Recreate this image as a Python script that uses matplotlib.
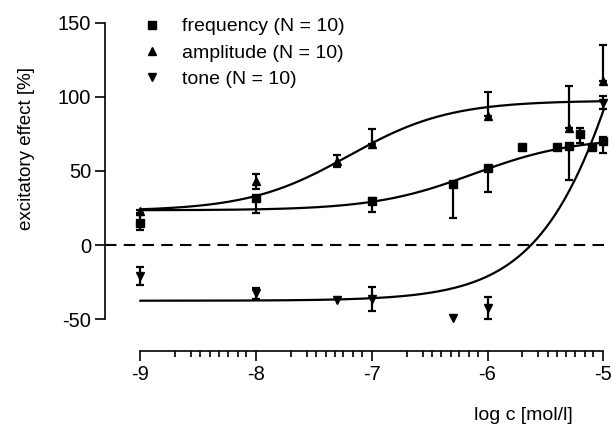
import matplotlib
matplotlib.use("Agg")
import matplotlib.pyplot as plt
from matplotlib.lines import Line2D
import numpy as np

plt.rcParams['font.family'] = ['Liberation Sans', 'DejaVu Sans']

# measured points (log c, effect %), with lower / upper error
freq_x = [-9, -8, -7, -6.3, -6, -5.7, -5.4, -5.3, -5.2, -5.1, -5]
freq_y = [15, 32, 30, 41, 52, 66, 66, 67, 75, 66, 70]
freq_lo = [5, 10, 7.5, 23, 16, 0, 0, 23, 6, 0, 8]
freq_hi = [5, 0, 2, 0, 0, 0, 0, 0, 4, 0, 3]

amp_x = [-9, -8, -7.3, -7, -6, -5.3, -5]
amp_y = [23, 43, 57, 68, 87, 79, 111]
amp_lo = [1, 5, 4, 0, 0, 0, 0]
amp_hi = [1, 5, 4, 10, 16, 28, 24]

tone_x = [-9, -8, -7.3, -7, -6.3, -6, -5]
tone_y = [-21, -32.5, -37, -36.5, -49, -42.5, 96]
tone_lo = [6, 3.5, 0, 8, 0, 7.5, 4.5]
tone_hi = [6, 3.5, 0, 8, 0, 7.5, 4.5]

# sigmoid fit parameters: bottom, top, logEC50, hill
freq_fit = (23.5, 72.6, -6.12, 1.0)
amp_fit = (23.0, 97.5, -7.2, 1.0)
tone_fit = (-37.5, 477.5, -4.52, 1.0)

labels = ['frequency (N = 10)', 'amplitude (N = 10)', 'tone (N = 10)']

# minor tick offsets inside each decade, as drawn in the original
minor_offsets = [0.30, 0.44, 0.52, 0.60, 0.68, 0.755, 0.84, 0.915]


def sigmoid(x, p):
    bottom, top, ec50, hill = p
    return bottom + (top - bottom) / (1 + 10 ** ((ec50 - x) * hill))


fig = plt.figure(figsize=(6.13, 4.26), dpi=100)
ax = fig.add_axes([105 / 613, 75.3 / 426, 506.4 / 613, 328 / 426])

xs = np.linspace(-9, -5, 300)
ax.axhline(0, color='k', lw=1.5, ls=(0, (5.5, 3.5)), zorder=1)

series = [
    (freq_x, freq_y, freq_lo, freq_hi, freq_fit, 's', 5.2),
    (amp_x, amp_y, amp_lo, amp_hi, amp_fit, '^', 5.5),
    (tone_x, tone_y, tone_lo, tone_hi, tone_fit, 'v', 5.5),
]
handles = []
for (x, y, lo, hi, fit, mk, ms), lab in zip(series, labels):
    ax.plot(xs, sigmoid(xs, fit), color='k', lw=1.6, zorder=2)
    x = np.array(x); y = np.array(y); lo = np.array(lo); hi = np.array(hi)
    sel = (lo > 0) | (hi > 0)
    ax.errorbar(x[sel], y[sel], yerr=[lo[sel], hi[sel]], fmt='none', ecolor='k',
                elinewidth=1.6, capsize=3, capthick=1.6, zorder=3)
    ax.plot(x, y, ls='none', marker=mk, ms=ms, color='k', zorder=4)
    handles.append(Line2D([], [], ls='none', marker=mk, ms=ms, color='k', label=lab))

ax.set_xlim(-9.305, -4.93)
ax.set_ylim(-71.2, 150)

for s in ['top', 'right']:
    ax.spines[s].set_visible(False)
ax.spines['left'].set_bounds(-50, 150)
ax.spines['bottom'].set_bounds(-9, -5)
for s in ['left', 'bottom']:
    ax.spines[s].set_linewidth(1.2)

ax.set_yticks([-50, 0, 50, 100, 150])
ax.set_yticklabels(['-50', '0', '50', '100', '150'])
ax.set_xticks([-9, -8, -7, -6, -5])
ax.set_xticklabels(['-9', '-8', '-7', '-6', '-5'])
minors = [d + o for d in [-9, -8, -7, -6] for o in minor_offsets]
ax.set_xticks(minors, minor=True)
ax.tick_params(axis='both', which='major', length=7, width=1.2, labelsize=14.5, pad=3)
ax.tick_params(axis='x', which='minor', length=4.5, width=1.2)
ax.tick_params(axis='y', which='minor', left=False)

fig.text(27 / 613, 1 - 149 / 426, 'excitatory effect [%]', rotation=90,
         ha='center', va='center', fontsize=13.5)
fig.text(573 / 613, 1 - 415 / 426, 'log c [mol/l]', ha='right', va='center',
         fontsize=14)

ax.legend(handles=handles, loc='upper left', bbox_to_anchor=(131 / 613, 1 - 8 / 426),
          bbox_transform=fig.transFigure, frameon=False, fontsize=14,
          handlelength=1.2, handletextpad=0.9, labelspacing=0.45, borderpad=0)

fig.savefig('out.png', dpi=100)
